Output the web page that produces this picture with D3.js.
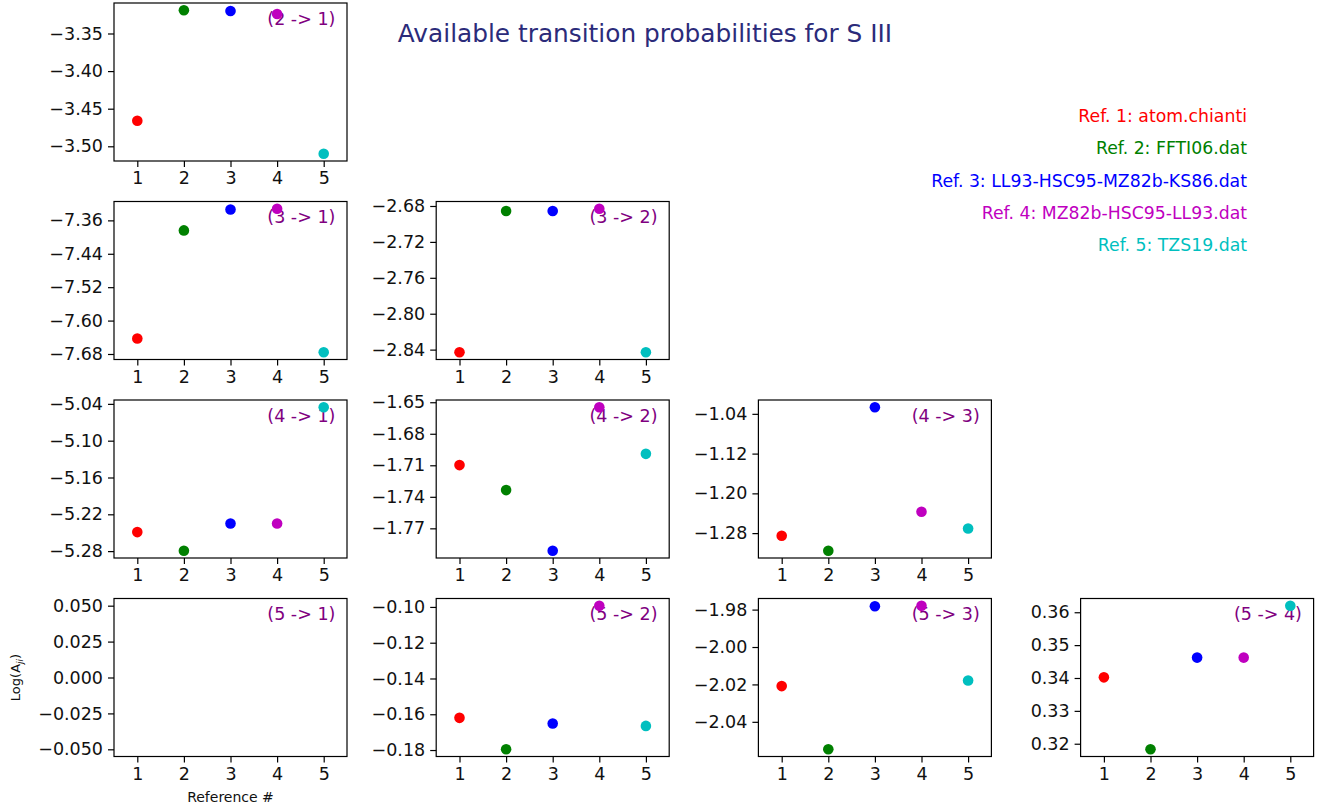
<!DOCTYPE html>
<html>
<head>
<meta charset="utf-8">
<script src="https://cdn.jsdelivr.net/npm/d3@7"></script>
<style>
  html, body { margin: 0; padding: 0; background: #fff; }
  svg { display: block; font-family: "DejaVu Sans", sans-serif; }
</style>
</head>
<body>
<svg id="chart" width="1332" height="812"></svg>
<script>
// Reference data sets
const refIds = [1, 2, 3, 4, 5];
const refNames = [
  "Ref. 1: atom.chianti",
  "Ref. 2: FFTI06.dat",
  "Ref. 3: LL93-HSC95-MZ82b-KS86.dat",
  "Ref. 4: MZ82b-HSC95-LL93.dat",
  "Ref. 5: TZS19.dat"
];
const refColors = ["#ff0000", "#008000", "#0000ff", "#bf00bf", "#00bfbf"];
const xTickLabels = [1, 2, 3, 4, 5];

// log10(A_ji) per transition, one value per reference (null = not available)
const a21 = [-3.466, -3.319, -3.320, -3.324, -3.510];
const a31 = [-7.643, -7.384, -7.334, -7.332, -7.676];
const a32 = [-2.843, -2.6856, -2.6856, -2.683, -2.843];
const a41 = [-5.249, -5.2795, -5.235, -5.235, -5.0454];
const a42 = [-1.7098, -1.7336, -1.7914, -1.6547, -1.6991];
const a43 = [-1.2854, -1.3156, -1.0266, -1.237, -1.2706];
const a51 = [null, null, null, null, null];
const a52 = [-0.162, -0.1796, -0.1652, -0.0993, -0.1665];
const a53 = [-2.0209, -2.0547, -1.9782, -1.9779, -2.0179];
const a54 = [0.3402, 0.3183, 0.3462, 0.3462, 0.362];

// y tick values per transition
const t21 = [-3.35, -3.40, -3.45, -3.50];
const t31 = [-7.36, -7.44, -7.52, -7.60, -7.68];
const t32 = [-2.68, -2.72, -2.76, -2.80, -2.84];
const t41 = [-5.04, -5.10, -5.16, -5.22, -5.28];
const t42 = [-1.65, -1.68, -1.71, -1.74, -1.77];
const t43 = [-1.04, -1.12, -1.20, -1.28];
const t51 = [0.050, 0.025, 0.000, -0.025, -0.050];
const t52 = [-0.10, -0.12, -0.14, -0.16, -0.18];
const t53 = [-1.98, -2.00, -2.02, -2.04];
const t54 = [0.36, 0.35, 0.34, 0.33, 0.32];

const panels = [
  { up: 2, lo: 1, vals: a21, ticks: t21, dec: 2 },
  { up: 3, lo: 1, vals: a31, ticks: t31, dec: 2 },
  { up: 3, lo: 2, vals: a32, ticks: t32, dec: 2 },
  { up: 4, lo: 1, vals: a41, ticks: t41, dec: 2 },
  { up: 4, lo: 2, vals: a42, ticks: t42, dec: 2 },
  { up: 4, lo: 3, vals: a43, ticks: t43, dec: 2 },
  { up: 5, lo: 1, vals: a51, ticks: t51, dec: 3 },
  { up: 5, lo: 2, vals: a52, ticks: t52, dec: 2 },
  { up: 5, lo: 3, vals: a53, ticks: t53, dec: 2 },
  { up: 5, lo: 4, vals: a54, ticks: t54, dec: 2 }
];

// Grid geometry
const gridLeft = 114, pitchX = 322.2, panelW = 233;
const gridTop = 3, pitchY = 198.5, panelH = 158;
const fontSize = 17.5;

const svg = d3.select("#chart");

panels.forEach(p => {
  const row = p.up - 2, col = p.lo - 1;
  const x0 = gridLeft + col * pitchX;
  const y0 = gridTop + row * pitchY;
  const g = svg.append("g").attr("transform", `translate(${x0},${y0})`);

  const x = d3.scaleLinear().domain([0.5, 5.5]).range([0, panelW]);

  const present = p.vals.filter(v => v !== null);
  let yDomain;
  if (present.length) {
    const lo = d3.min(present), hi = d3.max(present);
    const pad = (hi - lo) * 0.05;
    yDomain = [lo - pad, hi + pad];
  } else {
    yDomain = [-0.055, 0.055];
  }
  const y = d3.scaleLinear().domain(yDomain).range([panelH, 0]);

  // axes
  const xAxis = d3.axisBottom(x).tickValues(xTickLabels).tickSize(6).tickSizeOuter(0)
    .tickPadding(5).tickFormat(d3.format("d"));
  const yAxis = d3.axisLeft(y).tickValues(p.ticks).tickSize(6).tickSizeOuter(0)
    .tickPadding(5).tickFormat(d3.format(`.${p.dec}f`));

  const gx = g.append("g").attr("transform", `translate(0,${panelH})`).call(xAxis);
  const gy = g.append("g").call(yAxis);
  [gx, gy].forEach(a => {
    a.select(".domain").remove();
    a.selectAll("line").attr("stroke", "#000").attr("stroke-width", 1.2);
    a.selectAll("text").attr("fill", "#111").style("font-size", fontSize + "px")
      .style("font-family", "DejaVu Sans, sans-serif");
  });

  // transition label
  g.append("text")
    .attr("x", panelW - 0.05 * panelW)
    .attr("y", 0.05 * panelH + 14)
    .attr("text-anchor", "end")
    .attr("fill", "#800080")
    .style("font-size", fontSize + "px")
    .text(`(${p.up} -> ${p.lo})`);

  // points
  g.selectAll("circle")
    .data(refIds.map((r, i) => ({ r, v: p.vals[i], c: refColors[i] })).filter(d => d.v !== null))
    .join("circle")
    .attr("cx", d => x(d.r))
    .attr("cy", d => y(d.v))
    .attr("r", 5.3)
    .attr("fill", d => d.c);

  // frame
  g.append("rect")
    .attr("x", 0).attr("y", 0).attr("width", panelW).attr("height", panelH)
    .attr("fill", "none").attr("stroke", "#000").attr("stroke-width", 1.2);
});

// title
svg.append("text")
  .attr("x", 645).attr("y", 42)
  .attr("text-anchor", "middle")
  .attr("fill", "#2b2b7a")
  .style("font-size", "24.8px")
  .text("Available transition probabilities for S III");

// reference key
svg.append("g").selectAll("text")
  .data(refNames)
  .join("text")
  .attr("x", 1247)
  .attr("y", (d, i) => 122 + i * 32.3)
  .attr("text-anchor", "end")
  .attr("fill", (d, i) => refColors[i])
  .style("font-size", "17.3px")
  .text(d => d);

// axis titles
svg.append("text")
  .attr("x", gridLeft + panelW / 2).attr("y", 802)
  .attr("text-anchor", "middle")
  .attr("fill", "#111")
  .style("font-size", "14px")
  .text("Reference #");

const yl = svg.append("text")
  .attr("transform", `translate(20,${gridTop + 3 * pitchY + panelH / 2}) rotate(-90)`)
  .attr("text-anchor", "middle")
  .attr("fill", "#111")
  .style("font-size", "13px");
yl.append("tspan").text("Log(A");
yl.append("tspan").attr("dy", 3).style("font-size", "9px").style("font-style", "italic").text("ji");
yl.append("tspan").attr("dy", -3).text(")");
</script>
</body>
</html>
